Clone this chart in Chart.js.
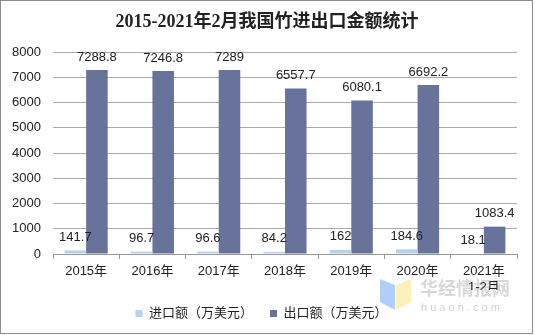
<!DOCTYPE html>
<html>
<head>
<meta charset="utf-8">
<script src="https://cdn.jsdelivr.net/npm/chart.js@4/dist/chart.umd.min.js"></script>
<style>
html,body{margin:0;padding:0;background:#fff;}
#wrap{width:535px;height:335px;position:relative;}
</style>
</head>
<body>
<div id="wrap"><canvas id="c" width="535" height="335"></canvas></div>
<script>
const categories = [["2015年"],["2016年"],["2017年"],["2018年"],["2019年"],["2020年"],["2021年","1-2月"]];
const importValues = [141.7, 96.7, 96.6, 84.2, 162, 184.6, 18.1];
const exportValues = [7288.8, 7246.8, 7289, 6557.7, 6080.1, 6692.2, 1083.4];
const importLabels = ["141.7","96.7","96.6","84.2","162","184.6","18.1"];
const exportLabels = ["7288.8","7246.8","7289","6557.7","6080.1","6692.2","1083.4"];
const seriesNames = ["进口额（万美元）","出口额（万美元）"];
const titleText = "2015-2021年2月我国竹进出口金额统计";

const FONT = '"Liberation Sans", Arial, "Noto Sans CJK SC", sans-serif';

const decor = {
  id: 'decor',
  beforeDraw(chart) {
    const ctx = chart.ctx;
    ctx.save();
    ctx.fillStyle = '#fff';
    ctx.fillRect(0,0,chart.width,chart.height);
    // watermark logo
    ctx.fillStyle = 'rgba(150,190,245,0.75)';
    ctx.beginPath();
    ctx.moveTo(380,279); ctx.lineTo(395,285); ctx.lineTo(395,310); ctx.lineTo(380,302); ctx.closePath();
    ctx.fill();
    ctx.fillStyle = 'rgba(253,236,170,0.8)';
    ctx.beginPath();
    ctx.moveTo(396,285); ctx.lineTo(411,279); ctx.lineTo(411,302); ctx.lineTo(396,310); ctx.closePath();
    ctx.fill();
    ctx.fillStyle = 'rgba(190,190,190,0.6)';
    ctx.font = 'bold 18px "Noto Sans CJK SC", sans-serif';
    ctx.textAlign = 'left';
    ctx.textBaseline = 'middle';
    ctx.fillText('华经情报网', 420, 288);
    ctx.font = '11px "Liberation Sans", sans-serif';
    ctx.fillStyle = 'rgba(190,190,190,0.7)';
    ctx.fillText('h u a o n . c o m', 421, 308);
    ctx.restore();
  },
  afterDraw(chart) {
    const ctx = chart.ctx;
    ctx.save();
    ctx.strokeStyle = '#8c8c8c';
    ctx.lineWidth = 1;
    ctx.strokeRect(0.5, 0.5, 532, 333);
    ctx.fillStyle = '#222';
    ctx.font = 'bold 18px "Liberation Serif", "Noto Sans CJK SC", serif';
    ctx.textAlign = 'center';
    ctx.textBaseline = 'middle';
    ctx.fillText(titleText, 267, 22);
    // data labels
    ctx.font = '13px ' + FONT;
    ctx.fillStyle = '#222';
    ctx.textBaseline = 'middle';
    const lbls = [importLabels, exportLabels];
    chart.data.datasets.forEach((ds, di) => {
      const meta = chart.getDatasetMeta(di);
      meta.data.forEach((bar, i) => {
        ctx.fillText(lbls[di][i], bar.x, bar.y - 13);
      });
    });
    ctx.restore();
  }
};

new Chart(document.getElementById('c'), {
  type: 'bar',
  data: {
    labels: categories,
    datasets: [
      { label: seriesNames[0], data: importValues, backgroundColor: '#b8d1e9', categoryPercentage: 0.65, barPercentage: 1 },
      { label: seriesNames[1], data: exportValues, backgroundColor: '#67739b', categoryPercentage: 0.65, barPercentage: 1 }
    ]
  },
  options: {
    responsive: false,
    animation: false,
    devicePixelRatio: 1,
    layout: { padding: { top: 52, left: 6, right: 18, bottom: 5 } },
    plugins: {
      title: { display: false },
      tooltip: { enabled: false },
      legend: {
        position: 'bottom',
        labels: {
          boxWidth: 7, boxHeight: 7, color: '#222',
          font: { size: 13, family: FONT },
          padding: 17
        }
      }
    },
    scales: {
      x: {
        grid: { display: true, drawOnChartArea: false, drawTicks: true, tickLength: 5, color: '#999', offset: true },
        border: { display: true, color: '#999' },
        ticks: { color: '#222', font: { size: 13, family: FONT }, padding: 5, maxRotation: 0 },
        afterFit(s) { s.height = 36; }
      },
      y: {
        min: 0, max: 8000,
        ticks: { stepSize: 1000, color: '#222', font: { size: 13, family: FONT }, padding: 12,
                 callback: (v) => String(v) },
        grid: { color: '#aaa', drawTicks: false },
        border: { display: false },
        afterFit(s) { s.width = 47; }
      }
    }
  },
  plugins: [decor]
});
</script>
</body>
</html>
